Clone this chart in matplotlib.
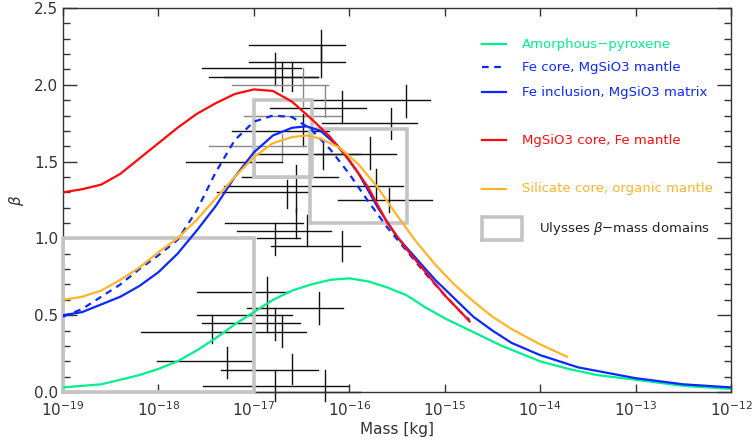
import numpy as np
import matplotlib
matplotlib.use("Agg")
import matplotlib.pyplot as plt
from matplotlib.ticker import FixedLocator, MultipleLocator, NullLocator, FormatStrFormatter

# model curves: log10(mass [kg]) and beta
amor_logm = [-19.0, -18.8, -18.6, -18.4, -18.2, -18.0, -17.8, -17.6, -17.4, -17.2,
             -17.0, -16.8, -16.6, -16.4, -16.2, -16.0, -15.8, -15.6, -15.4, -15.2,
             -15.0, -14.8, -14.6, -14.4, -14.2, -14.0, -13.7, -13.4, -13.0, -12.5, -12.0]
amor_beta = [0.03, 0.04, 0.05, 0.08, 0.11, 0.15, 0.20, 0.27, 0.35, 0.44,
             0.52, 0.60, 0.66, 0.70, 0.73, 0.74, 0.72, 0.68, 0.63, 0.55,
             0.48, 0.42, 0.36, 0.30, 0.25, 0.20, 0.15, 0.11, 0.08, 0.04, 0.02]

fecore_logm = [-19.0, -18.8, -18.6, -18.4, -18.2, -18.0, -17.8, -17.6, -17.4, -17.2,
               -17.0, -16.8, -16.6, -16.4, -16.2, -16.0, -15.8, -15.6, -15.4, -15.2,
               -15.0, -14.8, -14.74]
fecore_beta = [0.49, 0.54, 0.62, 0.70, 0.80, 0.89, 0.99, 1.18, 1.43, 1.64,
               1.76, 1.80, 1.79, 1.71, 1.58, 1.42, 1.24, 1.07, 0.92, 0.77,
               0.63, 0.50, 0.47]

feincl_logm = [-19.0, -18.8, -18.6, -18.4, -18.2, -18.0, -17.8, -17.6, -17.4, -17.2,
               -17.0, -16.8, -16.6, -16.45, -16.3, -16.1, -15.9, -15.7, -15.5, -15.3,
               -15.1, -14.9, -14.7, -14.5, -14.3, -14.0, -13.6, -13.0, -12.5, -12.0]
feincl_beta = [0.50, 0.52, 0.57, 0.62, 0.69, 0.78, 0.90, 1.05, 1.21, 1.40,
               1.56, 1.67, 1.72, 1.73, 1.70, 1.59, 1.42, 1.20, 1.01, 0.87,
               0.73, 0.61, 0.49, 0.40, 0.32, 0.24, 0.16, 0.09, 0.05, 0.03]

mgsio_logm = [-19.0, -18.8, -18.6, -18.4, -18.2, -18.0, -17.8, -17.6, -17.4, -17.2,
              -17.0, -16.8, -16.6, -16.4, -16.2, -16.0, -15.8, -15.6, -15.4, -15.2,
              -15.0, -14.8, -14.74]
mgsio_beta = [1.30, 1.32, 1.35, 1.42, 1.52, 1.62, 1.72, 1.81, 1.88, 1.94,
              1.97, 1.96, 1.89, 1.78, 1.66, 1.51, 1.33, 1.10, 0.93, 0.78,
              0.63, 0.50, 0.46]

silic_logm = [-19.0, -18.8, -18.6, -18.4, -18.2, -18.0, -17.8, -17.6, -17.4, -17.2,
              -17.0, -16.8, -16.6, -16.45, -16.3, -16.1, -15.9, -15.7, -15.5, -15.3,
              -15.1, -14.9, -14.7, -14.5, -14.3, -14.0, -13.72]
silic_beta = [0.60, 0.62, 0.66, 0.73, 0.81, 0.91, 1.00, 1.12, 1.26, 1.40,
              1.53, 1.62, 1.66, 1.67, 1.65, 1.59, 1.48, 1.33, 1.15, 0.98,
              0.83, 0.70, 0.59, 0.49, 0.41, 0.31, 0.23]

# Ulysses crosses: log10 mass (centre, low, high), beta (centre, low, high)
cx_logm = [-16.30, -16.30, -16.78, -16.70, -16.60, -16.48, -15.41, -16.25, -16.08, -15.56,
           -16.48, -16.70, -17.00, -16.28, -15.78, -16.65, -16.56, -15.72, -15.58, -16.56,
           -16.44, -16.78, -16.08, -16.86, -16.32, -17.44, -16.78, -16.70, -17.28, -16.60,
           -16.25, -16.78]
cx_lo = [-17.05, -17.05, -17.54, -17.47, -17.31, -17.23, -16.39, -17.10, -16.83, -16.29,
         -17.23, -17.47, -17.71, -16.97, -16.35, -17.39, -17.12, -17.31, -16.12, -17.30,
         -17.18, -16.97, -16.82, -17.60, -17.07, -18.18, -17.54, -17.60, -18.02, -17.34,
         -17.53, -16.97]
cx_hi = [-16.04, -16.04, -16.51, -16.33, -16.33, -16.22, -15.15, -16.08, -15.82, -15.29,
         -16.21, -16.45, -16.70, -15.89, -15.51, -16.42, -16.12, -15.44, -15.13, -16.49,
         -16.19, -16.52, -15.89, -16.63, -16.07, -16.45, -16.52, -16.60, -17.03, -16.33,
         -16.00, -15.89]
cy_beta = [2.26, 2.15, 2.11, 2.05, 2.05, 2.00, 1.90, 1.80, 1.85, 1.75,
           1.70, 1.60, 1.50, 1.55, 1.55, 1.30, 1.40, 1.34, 1.25, 1.10,
           1.05, 1.00, 0.95, 0.65, 0.55, 0.39, 0.45, 0.50, 0.20, 0.14,
           0.04, 0.00]
cy_lo = [2.15, 2.05, 2.00, 1.96, 1.96, 1.86, 1.79, 1.79, 1.75, 1.65,
         1.60, 1.50, 1.40, 1.45, 1.45, 1.20, 1.17, 1.25, 1.17, 1.00,
         0.95, 0.89, 0.85, 0.39, 0.44, 0.32, 0.34, 0.29, 0.09, 0.05,
         -0.06, -0.06]
cy_hi = [2.36, 2.26, 2.21, 2.15, 2.15, 2.11, 2.00, 2.00, 1.96, 1.85,
         1.81, 1.68, 1.60, 1.64, 1.66, 1.38, 1.48, 1.45, 1.33, 1.20,
         1.15, 1.10, 1.05, 0.75, 0.65, 0.50, 0.55, 0.50, 0.29, 0.25,
         0.14, 0.14]
cross_gray = [5, 7, 11]

# Ulysses beta-mass domains: log10 mass range, beta range
box_logm = [(-19.0, -17.0), (-17.0, -16.39), (-16.41, -15.39)]
box_beta = [(0.0, 1.0), (1.40, 1.90), (1.10, 1.71)]

c_green = '#00f08c'
c_blue = '#0a28ff'
c_red = '#ff0a0a'
c_orange = '#ffb428'
c_box = '#c4c4c4'

fig = plt.figure(figsize=(7.53, 4.47), dpi=100)
ax = fig.add_axes([63/753, 1 - 392/447, 668/753, 384/447])

for i in range(len(cx_logm)):
    col = '#888888' if i in cross_gray else '#111111'
    xc = 10**cx_logm[i]
    ax.plot([10**cx_lo[i], 10**cx_hi[i]], [cy_beta[i], cy_beta[i]], color=col, lw=1.0,
            zorder=1, clip_on=False)
    ax.plot([xc, xc], [cy_lo[i], cy_hi[i]], color=col, lw=1.0, zorder=1, clip_on=False)

for (m0, m1), (b0, b1) in zip(box_logm, box_beta):
    ax.plot([10**m0, 10**m1, 10**m1, 10**m0, 10**m0], [b0, b0, b1, b1, b0],
            color=c_box, lw=2.6, zorder=2.6, clip_on=False, solid_joinstyle='miter')

ax.plot(10**np.array(amor_logm), amor_beta, color=c_green, lw=1.6, zorder=3)
ax.plot(10**np.array(fecore_logm), fecore_beta, color=c_blue, lw=1.6, ls=(0, (3, 2.5)), zorder=3)
ax.plot(10**np.array(feincl_logm), feincl_beta, color=c_blue, lw=1.6, zorder=3)
ax.plot(10**np.array(mgsio_logm), mgsio_beta, color=c_red, lw=1.6, zorder=3)
ax.plot(10**np.array(silic_logm), silic_beta, color=c_orange, lw=1.6, zorder=3)

ax.set_xscale('log')
ax.set_xlim(1e-19, 1e-12)
ax.set_ylim(0, 2.5)
ax.xaxis.set_major_locator(FixedLocator([10.0**k for k in range(-19, -11)]))
ax.xaxis.set_minor_locator(NullLocator())
ax.yaxis.set_major_locator(MultipleLocator(0.5))
ax.yaxis.set_minor_locator(MultipleLocator(0.1))
ax.yaxis.set_major_formatter(FormatStrFormatter('%.1f'))
ax.tick_params(which='both', direction='in', top=True, right=True, labelsize=11, colors='#333333')
ax.tick_params(axis='y', which='major', length=10, width=1)
ax.tick_params(axis='y', which='minor', length=5, width=1)
ax.tick_params(axis='x', which='major', length=5.5, width=1, pad=6)
for s in ax.spines.values():
    s.set_color('#333333')
    s.set_linewidth(1.0)

ax.set_xlabel('Mass [kg]', fontsize=11, color='#333333', labelpad=2)
ax.set_ylabel(r'$\beta$', fontsize=11, color='#333333', labelpad=6)

# legend drawn by hand
leg = [('Amorphous\u2212pyroxene', c_green, '-', 0.906),
       ('Fe core, MgSiO3 mantle', c_blue, '--', 0.846),
       ('Fe inclusion, MgSiO3 matrix', c_blue, '-', 0.781),
       ('MgSiO3 core, Fe mantle', c_red, '-', 0.656),
       ('Silicate core, organic mantle', c_orange, '-', 0.529)]
for txt, col, ls, fy in leg:
    ax.plot([0.627, 0.663], [fy, fy], color=col, lw=1.6, ls=ls if ls == '-' else (0, (3, 2.5)),
            transform=ax.transAxes, zorder=4)
    ax.text(0.687, fy, txt, color=col, fontsize=9.5, va='center', ha='left',
            transform=ax.transAxes, zorder=4)
ax.plot([0.627, 0.687, 0.687, 0.627, 0.627], [0.396, 0.396, 0.456, 0.456, 0.396],
        color=c_box, lw=2.6, transform=ax.transAxes, zorder=4, solid_joinstyle='miter')
ax.text(0.713, 0.427, 'Ulysses $\\beta$\u2212mass domains', color='#222222', fontsize=9.5,
        va='center', ha='left', transform=ax.transAxes, zorder=4)

fig.savefig('out.png', dpi=100)
